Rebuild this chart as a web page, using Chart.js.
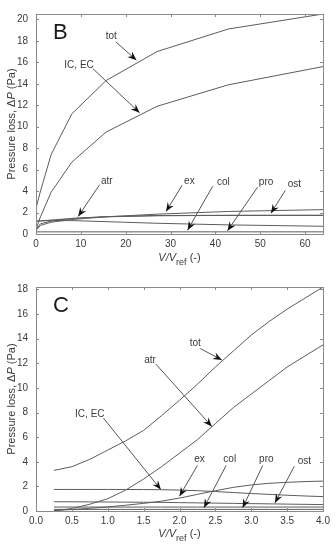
<!DOCTYPE html>
<html>
<head>
<meta charset="utf-8">
<script src="https://cdn.jsdelivr.net/npm/chart.js@4.4.1/dist/chart.umd.min.js"></script>
<style>
  body { margin: 0; background: #fff; }
  #wrap { position: relative; width: 336px; height: 550px; }
  canvas { position: absolute; left: 0; }
</style>
</head>
<body>
<div id="wrap">
  <canvas id="chartB" width="336" height="272" style="top:0"></canvas>
  <canvas id="chartC" width="336" height="278" style="top:272px"></canvas>
</div>
<script>
// panel B data (x = V/Vref)
const bX = [0.015625, 0.125, 1, 3.375, 8, 15.625, 27, 42.875, 64];
const bTot = [1.9, 2.6, 4.0, 7.4, 11.2, 14.3, 17.0, 19.1, 20.5];
const bIcEc = [0.3, 0.6, 1.6, 3.9, 6.7, 9.5, 11.9, 13.9, 15.6];
const bAtr = [0.3, 0.5, 0.95, 1.2, 1.45, 1.62, 1.72, 1.74, 1.75];
const bEx = [0.25, 0.4, 0.8, 1.1, 1.35, 1.6, 1.85, 2.1, 2.27];
const bCol = [1.2, 1.2, 1.22, 1.25, 1.25, 1.15, 1.0, 0.85, 0.72];
const bPro = [0.2, 0.2, 0.2, 0.2, 0.2, 0.2, 0.2, 0.2, 0.2];
const bOst = [1.2, 1.2, 1.22, 1.3, 1.45, 1.6, 1.7, 1.73, 1.73];
const bXTicks = [0, 10, 20, 30, 40, 50, 60];
const bYTicks = [0, 2, 4, 6, 8, 10, 12, 14, 16, 18, 20];

// panel C data
const cX = [0.25, 0.5, 0.75, 1, 1.25, 1.5, 1.75, 2, 2.25, 2.5, 2.75, 3, 3.25, 3.5, 3.75, 4];
const cTot = [3.3, 3.6, 4.2, 4.95, 5.7, 6.55, 7.75, 9.0, 10.3, 11.7, 13.0, 14.3, 15.4, 16.4, 17.3, 18.2];
const cAtr = [0.0, 0.2, 0.55, 1.0, 1.7, 2.6, 3.6, 4.7, 5.8, 7.1, 8.4, 9.5, 10.6, 11.7, 12.6, 13.5];
const cIcEc = [1.75, 1.75, 1.75, 1.75, 1.75, 1.74, 1.73, 1.70, 1.65, 1.58, 1.50, 1.42, 1.35, 1.28, 1.22, 1.17];
const cEx = [0.05, 0.12, 0.22, 0.33, 0.47, 0.62, 0.8, 1.05, 1.35, 1.65, 1.92, 2.12, 2.25, 2.33, 2.39, 2.43];
const cCol = [0.32, 0.32, 0.32, 0.32, 0.32, 0.32, 0.32, 0.32, 0.32, 0.32, 0.32, 0.32, 0.32, 0.32, 0.32, 0.32];
const cPro = [0.13, 0.13, 0.13, 0.13, 0.13, 0.13, 0.13, 0.13, 0.13, 0.13, 0.13, 0.13, 0.13, 0.13, 0.13, 0.13];
const cOst = [0.75, 0.75, 0.74, 0.73, 0.72, 0.71, 0.7, 0.68, 0.66, 0.64, 0.62, 0.6, 0.58, 0.56, 0.54, 0.52];
const cXTicks = [0, 0.5, 1, 1.5, 2, 2.5, 3, 3.5, 4];
const cYTicks = [0, 2, 4, 6, 8, 10, 12, 14, 16, 18];

// labels: [text, textX, textY, fromX, fromY, tipX, tipY] in data units
const bNotes = [
    ["tot", 16.8, 18.4, 17.8, 17.9, 22.4, 16.2],
    ["IC, EC", 9.6, 15.75, 12.7, 15.4, 23.1, 11.3],
    ["atr", 15.8, 4.9, 14.2, 4.6, 9.4, 1.64],
    ["ex", 34.2, 4.9, 32.6, 4.55, 29, 2.1],
    ["col", 41.8, 4.85, 39.4, 4.45, 33.8, 0.36],
    ["pro", 51.3, 4.85, 49.4, 4.36, 42.7, 0.3],
    ["ost", 57.6, 4.67, 55.6, 4.06, 52.4, 1.94]
];
const cNotes = [
    ["tot", 2.22, 13.6, 2.29, 13.2, 2.59, 12.27],
    ["atr", 1.59, 12.27, 1.67, 11.94, 2.45, 6.87],
    ["IC, EC", 0.75, 7.9, 0.94, 7.55, 1.74, 1.74],
    ["ex", 2.28, 4.17, 2.25, 3.71, 2.0, 1.2],
    ["col", 2.7, 4.17, 2.65, 3.7, 2.34, 0.26],
    ["pro", 3.21, 4.17, 3.16, 3.7, 2.88, 0.26],
    ["ost", 3.74, 4.03, 3.6, 3.63, 3.33, 0.66]
];

const LINE = "#5c5c5c";
const TXT = "#3a3a3a";
const FONT = "'Liberation Sans', Arial, sans-serif";

function series(xs, ys) {
    return {
        data: xs.map((x, i) => ({ x: x, y: ys[i] })),
        borderColor: LINE,
        borderWidth: 1,
        pointRadius: 0,
        tension: 0,
        fill: false
    };
}

function arrow(ctx, x0, y0, x1, y1) {
    ctx.beginPath();
    ctx.moveTo(x0, y0);
    ctx.lineTo(x1, y1);
    ctx.strokeStyle = "#555";
    ctx.lineWidth = 1;
    ctx.stroke();
    const a = Math.atan2(y1 - y0, x1 - x0);
    const len = 9, half = 3.6;
    const bx = x1 - len * Math.cos(a), by = y1 - len * Math.sin(a);
    const nx = x1 - len * 0.65 * Math.cos(a), ny = y1 - len * 0.65 * Math.sin(a);
    ctx.beginPath();
    ctx.moveTo(x1, y1);
    ctx.lineTo(bx + half * Math.sin(a), by - half * Math.cos(a));
    ctx.lineTo(nx, ny);
    ctx.lineTo(bx - half * Math.sin(a), by + half * Math.cos(a));
    ctx.closePath();
    ctx.fillStyle = "#111";
    ctx.fill();
}

const decor = {
    id: "decor",
    afterDraw(chart, args, opts) {
        const ctx = chart.ctx;
        const a = chart.chartArea;
        const xs = chart.scales.x, ys = chart.scales.y;
        ctx.save();
        // box
        ctx.strokeStyle = "#8a8a8a";
        ctx.lineWidth = 1;
        ctx.strokeRect(Math.round(a.left) + 0.5, Math.round(a.top) + 0.5,
            Math.round(a.right - a.left), Math.round(a.bottom - a.top));
        // inward ticks on all sides
        ctx.beginPath();
        xs.ticks.forEach(t => {
            const px = Math.round(xs.getPixelForValue(t.value)) + 0.5;
            ctx.moveTo(px, a.bottom); ctx.lineTo(px, a.bottom - 3);
            ctx.moveTo(px, a.top); ctx.lineTo(px, a.top + 3);
        });
        ys.ticks.forEach(t => {
            const py = Math.round(ys.getPixelForValue(t.value)) + 0.5;
            ctx.moveTo(a.left, py); ctx.lineTo(a.left + 3, py);
            ctx.moveTo(a.right, py); ctx.lineTo(a.right - 3, py);
        });
        ctx.stroke();

        // panel letter
        ctx.fillStyle = "#1a1a1a";
        ctx.font = "22px " + FONT;
        ctx.textAlign = "left";
        ctx.textBaseline = "alphabetic";
        ctx.fillText(opts.letter, a.left + 17, a.top + 25);

        // annotations
        ctx.font = "10px " + FONT;
        opts.notes.forEach(n => {
            ctx.fillStyle = TXT;
            ctx.textAlign = "center";
            ctx.textBaseline = "middle";
            ctx.fillText(n[0], xs.getPixelForValue(n[1]), ys.getPixelForValue(n[2]));
            arrow(ctx, xs.getPixelForValue(n[3]), ys.getPixelForValue(n[4]),
                xs.getPixelForValue(n[5]), ys.getPixelForValue(n[6]));
        });

        // x title: V/V_ref (-)
        ctx.fillStyle = TXT;
        ctx.textBaseline = "alphabetic";
        ctx.textAlign = "left";
        const cx = (a.left + a.right) / 2;
        const by = a.bottom + opts.xTitleY;
        const f1 = "italic 11px " + FONT, f2 = "9px " + FONT, f3 = "11px " + FONT;
        ctx.font = f1; const w1 = ctx.measureText("V/V").width;
        ctx.font = f2; const w2 = ctx.measureText("ref").width;
        ctx.font = f3; const w3 = ctx.measureText(" (-)").width;
        let x = cx - (w1 + w2 + w3) / 2;
        ctx.font = f1; ctx.fillText("V/V", x, by); x += w1;
        ctx.font = f2; ctx.fillText("ref", x, by + 4); x += w2;
        ctx.font = f3; ctx.fillText(" (-)", x, by);

        // y title: Pressure loss, ΔP (Pa)
        ctx.translate(15, (a.top + a.bottom) / 2);
        ctx.rotate(-Math.PI / 2);
        const p1 = "Pressure loss, Δ", p2 = "P", p3 = " (Pa)";
        ctx.font = f3; const q1 = ctx.measureText(p1).width;
        ctx.font = f1; const q2 = ctx.measureText(p2).width;
        ctx.font = f3; const q3 = ctx.measureText(p3).width;
        let y = -(q1 + q2 + q3) / 2;
        ctx.font = f3; ctx.fillText(p1, y, 0); y += q1;
        ctx.font = f1; ctx.fillText(p2, y, 0); y += q2;
        ctx.font = f3; ctx.fillText(p3, y, 0);
        ctx.restore();
    }
};

function makeChart(id, sets, xMax, yMax, xTicks, yTicks, xFmt, padTop, xAxisH, decorOpts) {
    return new Chart(document.getElementById(id), {
        type: "line",
        data: { datasets: sets },
        plugins: [decor],
        options: {
            responsive: false,
            animation: false,
            layout: { padding: { top: padTop, right: 13, left: 0, bottom: 0 } },
            plugins: {
                legend: { display: false },
                tooltip: { enabled: false },
                decor: decorOpts
            },
            scales: {
                x: {
                    type: "linear",
                    min: 0,
                    max: xMax,
                    grid: { display: false, drawTicks: false },
                    border: { display: false },
                    afterBuildTicks: s => { s.ticks = xTicks.map(v => ({ value: v })); },
                    afterFit: s => { s.height = xAxisH; },
                    ticks: {
                        padding: 4,
                        maxRotation: 0,
                        autoSkip: false,
                        color: TXT,
                        font: { family: FONT, size: 10 },
                        callback: xFmt
                    }
                },
                y: {
                    min: 0,
                    max: yMax,
                    grid: { display: false, drawTicks: false },
                    border: { display: false },
                    afterBuildTicks: s => { s.ticks = yTicks.map(v => ({ value: v })); },
                    afterFit: s => { s.width = 36; },
                    ticks: {
                        padding: 8,
                        autoSkip: false,
                        color: TXT,
                        font: { family: FONT, size: 10 }
                    }
                }
            }
        }
    });
}

makeChart("chartB",
    [series(bX, bTot), series(bX, bIcEc), series(bX, bAtr), series(bX, bEx),
     series(bX, bCol), series(bX, bPro), series(bX, bOst)],
    64, 20.5, bXTicks, bYTicks, v => v, 8, 38,
    { letter: "B", notes: bNotes, xTitleY: 27 });

makeChart("chartC",
    [series(cX, cTot), series(cX, cAtr), series(cX, cIcEc), series(cX, cEx),
     series(cX, cCol), series(cX, cPro), series(cX, cOst)],
    4, 18.2, cXTicks, cYTicks, v => Number(v).toFixed(1), 15, 39,
    { letter: "C", notes: cNotes, xTitleY: 26 });
</script>
</body>
</html>
